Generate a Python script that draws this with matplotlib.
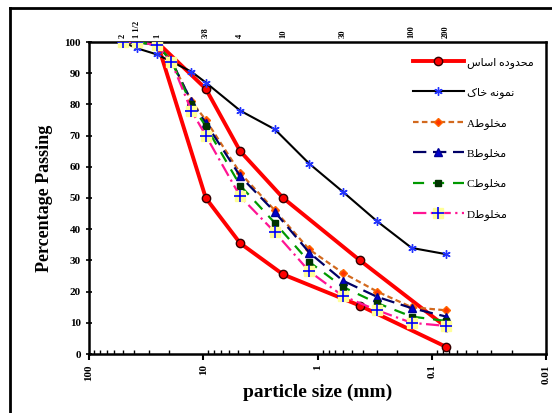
import matplotlib
matplotlib.use("Agg")
import matplotlib.pyplot as plt
from matplotlib.lines import Line2D
from matplotlib.legend_handler import HandlerTuple
import numpy as np

# ---------------- data ----------------
sieve_mm = [50.8, 38.1, 25.4, 19.0, 12.7, 9.5, 4.75, 2.36, 1.18, 0.6, 0.3, 0.15, 0.075]
soil_mm = [50.8, 38.1, 25.4, 12.7, 9.5, 4.75, 2.36, 1.18, 0.6, 0.3, 0.15, 0.075]
soil = [100, 98, 96, 90.5, 87, 78, 72, 61, 52, 42.5, 34, 32]
mix_A = [100, 100, 99, 94, 81, 75, 58, 46, 33.5, 26, 20, 15, 14]
mix_B = [100, 100, 99, 94, 81, 74, 57, 45.5, 32.5, 23.5, 18.3, 14.7, 12]
mix_C = [100, 100, 99, 94, 80, 73, 54, 42, 29.5, 21.5, 16.3, 12, 10.6]
mix_D = [100, 100, 99, 93.6, 78, 70, 50.5, 39, 26.5, 18.6, 14, 10, 9]
limit_mm = [25.4, 9.5, 4.75, 2.0, 0.425, 0.075]
limit_upper = [100, 85, 65, 50, 30, 8.7]
limit_lower = [100, 50, 35.5, 25.5, 15.5, 2.3]

top_ticks = [50.8, 38.1, 25.4, 9.5, 4.75, 2.0, 0.6, 0.15, 0.075]
top_labels = ["2", "1 1/2", "1", "3/8", "4", "10", "30", "100", "200"]
x_ticks = [100, 10, 1, 0.1, 0.01]
x_labels = ["100", "10", "1", "0.1", "0.01"]

# Persian labels (pre-shaped, visual order)
lab_limit = "\uFEB1\uFE8E\uFEB3\uFE8D \uFEE9\uFEA9\uFEED\uFEAA\uFEA4\uFEE3"
lab_soil = "\uFB8E\uFE8E\uFEA7 \uFEEA\uFEE7\uFEEE\uFEE4\uFEE7"
mix_word = "\uFEC1\uFEEE\uFEE0\uFEA8\uFEE3"
labels = [lab_limit, lab_soil, "A" + mix_word, "B" + mix_word, "C" + mix_word, "D" + mix_word]

serif = "Liberation Serif"

fig = plt.figure(figsize=(5.52, 4.13), dpi=100)
ax = fig.add_axes([89 / 552, 1 - 354 / 413, (546 - 89) / 552, (354 - 42) / 413])

# red limits
red_kw = dict(color="#FF0000", lw=2.8, marker="o", ms=6, mfc="#FF0000", mec="#330000", mew=1.0)
ax.plot(limit_mm, limit_upper, **red_kw, zorder=3)
ax.plot(limit_mm, limit_lower, **red_kw, zorder=3)

# soil
ast = (6, 2, 0)
soil_kw = dict(color="black", lw=1.5, marker=ast, ms=6, mec="#2233FF", mew=1.0)
ax.plot(soil_mm, soil, **soil_kw, zorder=4)

# mixes
A_kw = dict(color="#D2691E", lw=1.6, dashes=(2.5, 1.5), marker="D", ms=4.5, mfc="#FF3300", mec="#FF6600")
B_kw = dict(color="#000066", lw=1.6, dashes=(6, 3), marker="^", ms=5.5, mfc="#0000CC", mec="#000099")
C_kw = dict(color="#009900", lw=1.6, dashes=(5, 4), marker="s", ms=4.5, mfc="#003300", mec="#003300")
D_line = dict(color="#FF1493", lw=1.6, dashes=(6, 2, 1, 2))
D_sq = dict(ls="none", marker="s", ms=7, mfc="#FFFF99", mec="#FFFF99")
D_plus = dict(ls="none", marker="+", ms=8, mec="#0000FF", mew=1.2)
ax.plot(sieve_mm, mix_A, **A_kw, zorder=5)
ax.plot(sieve_mm, mix_B, **B_kw, zorder=5)
ax.plot(sieve_mm, mix_C, **C_kw, zorder=5)
ax.plot(sieve_mm, mix_D, **D_line, zorder=5)
ax.plot(sieve_mm, mix_D, **D_sq, zorder=6)
ax.plot(sieve_mm, mix_D, **D_plus, zorder=7)

ax.set_xscale("log")
ax.set_xlim(100, 0.01)
ax.set_ylim(0, 100)
ax.set_yticks(np.arange(0, 101, 10))
ax.set_xticks(x_ticks)
ax.set_xticklabels(x_labels, rotation=90, fontfamily=serif, fontweight="bold", fontsize=8)
ax.set_yticklabels([str(v) for v in range(0, 101, 10)], fontfamily=serif, fontweight="bold", fontsize=8)
ax.tick_params(axis="y", direction="inout", length=5, width=1.2, right=False)
ax.tick_params(axis="x", which="major", direction="out", length=4, width=1.5, top=False)
ax.tick_params(axis="x", which="minor", direction="in", length=3, width=1.0, top=False)
for s in ax.spines.values():
    s.set_linewidth(1.8)

ax.set_xlabel("particle size (mm)", fontfamily=serif, fontweight="bold", fontsize=14, labelpad=0)
ax.set_ylabel("Percentage Passing", fontfamily=serif, fontweight="bold", fontsize=13, labelpad=8)

sec = ax.secondary_xaxis("top")
sec.set_xticks(top_ticks)
sec.set_xticklabels(top_labels, rotation=90, fontfamily=serif, fontweight="bold", fontsize=6)
sec.tick_params(axis="x", which="both", length=0, pad=3)
sec.xaxis.set_minor_locator(matplotlib.ticker.NullLocator())
sec.spines["top"].set_visible(False)

# legend
h_red = Line2D([], [], **red_kw)
h_soil = Line2D([], [], **soil_kw)
h_A = Line2D([], [], **A_kw)
h_B = Line2D([], [], **B_kw)
h_C = Line2D([], [], **C_kw)
h_D = (Line2D([], [], **D_line), Line2D([], [], **D_sq), Line2D([], [], **D_plus))
leg = ax.legend([h_red, h_soil, h_A, h_B, h_C, h_D], labels,
                handler_map={tuple: HandlerTuple(ndivide=1, pad=0)},
                loc="upper right", bbox_to_anchor=(0.995, 0.985), frameon=False,
                handlelength=4.6, labelspacing=1.75, handletextpad=0.3,
                prop={"family": [serif, "DejaVu Sans"], "size": 8})

# outer frame (left and top edges)
fig.add_artist(Line2D([10 / 552, 10 / 552], [0, 1 - 8 / 413], transform=fig.transFigure, color="black", lw=2))
fig.add_artist(Line2D([10 / 552, 1], [1 - 8 / 413, 1 - 8 / 413], transform=fig.transFigure, color="black", lw=2))

fig.savefig("out.png", dpi=100)
